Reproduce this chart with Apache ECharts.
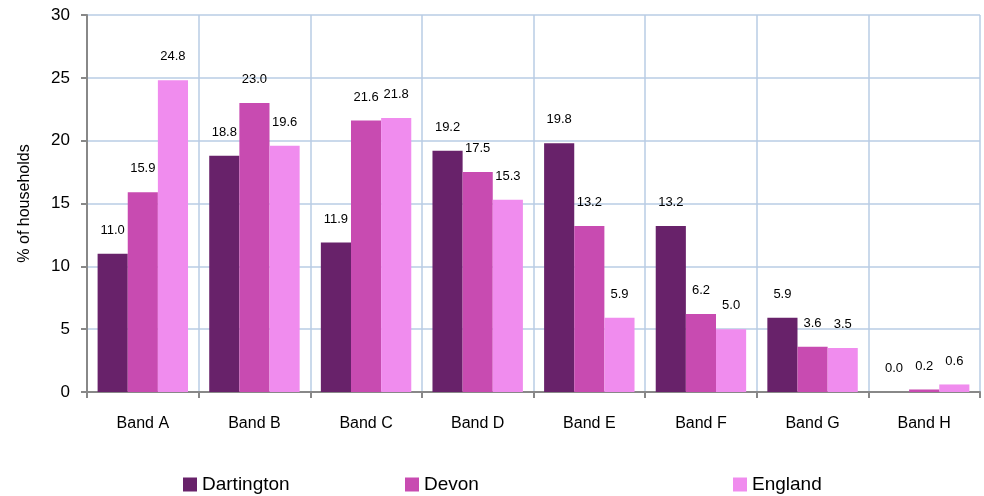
<!DOCTYPE html>
<html><head><meta charset="utf-8">
<script src="https://cdn.jsdelivr.net/npm/echarts@6/dist/echarts.min.js"></script>
<style>html,body{margin:0;padding:0;background:#fff}#c{width:984px;height:496px}</style>
</head><body><div id="c"></div>
<script>
const categories = ['Band A','Band B','Band C','Band D','Band E','Band F','Band G','Band H'];
const dartington = [11.0,18.8,11.9,19.2,19.8,13.2,5.9,0.0];
const devon = [15.9,23.0,21.6,17.5,13.2,6.2,3.6,0.2];
const england = [24.8,19.6,21.8,15.3,5.9,5.0,3.5,0.6];
const seriesNames = ['Dartington','Devon','England'];
const colors = ['#68226A','#C84BB1','#F08CEE'];
const font = 'Liberation Sans, Arial, sans-serif';
const chart = echarts.init(document.getElementById('c'));
function mk(name, data, color){
  return {name, type:'bar', data, barGap:'0%', barCategoryGap:'19%',
    itemStyle:{color},
    label:{show:true, position:'top', distance:17, color:'#000', fontSize:13, fontFamily:font,
      formatter:p=>p.value.toFixed(1)}};
}
const legendBase = {top:470, itemWidth:14, itemHeight:14, icon:'rect',
  textStyle:{fontSize:19, fontFamily:font, color:'#000'}, itemGap:4};
chart.setOption({
  animation:false,
  color:colors,
  grid:{left:87, right:4, top:15, bottom:104},
  legend:[
    Object.assign({left:178, data:['Dartington']}, legendBase),
    Object.assign({left:400, data:['Devon']}, legendBase),
    Object.assign({left:728, data:['England']}, legendBase)
  ],
  xAxis:{type:'category', data:categories,
    axisLine:{lineStyle:{color:'#888', width:2}},
    axisTick:{show:true, length:6, lineStyle:{color:'#888', width:2}},
    axisLabel:{margin:24, fontSize:16, fontFamily:font, color:'#000'},
    splitLine:{show:true, lineStyle:{color:'#B9CDE5', width:1.5}}},
  yAxis:{type:'value', min:0, max:30, interval:5,
    name:'% of households', nameLocation:'middle', nameGap:54, nameRotate:90,
    nameTextStyle:{fontSize:16, fontFamily:font, color:'#000'},
    axisLine:{show:true, lineStyle:{color:'#888', width:2}},
    axisTick:{show:true, length:6, lineStyle:{color:'#888', width:2}},
    axisLabel:{fontSize:17, fontFamily:font, color:'#000', margin:17},
    splitLine:{show:true, lineStyle:{color:'#B9CDE5', width:1.5}}},
  series:[mk(seriesNames[0], dartington, colors[0]), mk(seriesNames[1], devon, colors[1]), mk(seriesNames[2], england, colors[2])]
});
</script></body></html>
